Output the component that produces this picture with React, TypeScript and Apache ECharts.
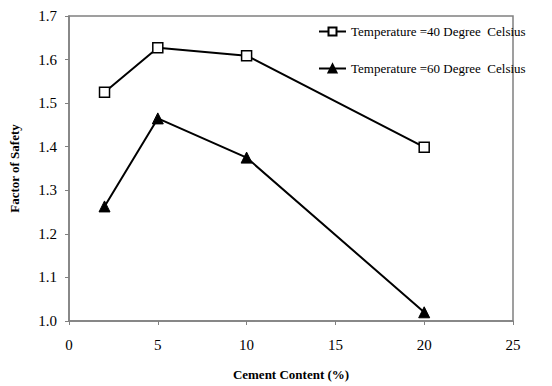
import React, { useEffect, useRef } from "react";
import * as echarts from "echarts";

const cement = [2, 5, 10, 20];
const fos40 = [1.525, 1.627, 1.609, 1.399];
const fos60 = [1.263, 1.465, 1.375, 1.02];
const seriesNames = ["Temperature =40 Degree  Celsius", "Temperature =60 Degree  Celsius"];
const xTitle = "Cement Content (%)";
const yTitle = "Factor of Safety";

export default function App() {
  const ref = useRef<HTMLDivElement>(null);
  useEffect(() => {
    const chart = echarts.init(ref.current!, null, { renderer: "svg" });
    const font = "serif";
    chart.setOption({
      animation: false,
      textStyle: { fontFamily: font },
      grid: { left: 68, right: 39, top: 16, bottom: 63, show: true, borderColor: "#808080", borderWidth: 1.5 },
      legend: {
        orient: "vertical",
        left: 313,
        top: 20,
        itemGap: 24,
        itemWidth: 27,
        itemHeight: 10,
        textStyle: { fontFamily: font, fontSize: 13, color: "#000" },
        data: seriesNames,
      },
      xAxis: {
        type: "value",
        min: 0,
        max: 25,
        interval: 5,
        name: xTitle,
        nameLocation: "middle",
        nameGap: 47,
        nameTextStyle: { fontFamily: font, fontWeight: "bold", fontSize: 13, color: "#000" },
        axisLine: { lineStyle: { color: "#808080", width: 1.5 } },
        axisTick: { show: true, length: 4, lineStyle: { color: "#808080" } },
        axisLabel: { fontFamily: font, fontSize: 15, color: "#000", margin: 16 },
        splitLine: { show: false },
      },
      yAxis: {
        type: "value",
        min: 1.0,
        max: 1.7,
        interval: 0.1,
        name: yTitle,
        nameLocation: "middle",
        nameGap: 48,
        nameRotate: 90,
        nameTextStyle: { fontFamily: font, fontWeight: "bold", fontSize: 13, color: "#000" },
        axisLine: { show: true, lineStyle: { color: "#808080", width: 1.5 } },
        axisTick: { show: true, length: 4, lineStyle: { color: "#808080" } },
        axisLabel: { fontFamily: font, fontSize: 15, color: "#000", margin: 12, formatter: (v: number) => v.toFixed(1) },
        splitLine: { show: false },
      },
      series: [
        {
          name: seriesNames[0],
          type: "line",
          data: cement.map((x, i) => [x, fos40[i]]),
          symbol: "rect",
          symbolSize: 10,
          lineStyle: { color: "#000", width: 2 },
          itemStyle: { color: "#fff", borderColor: "#000", borderWidth: 1.5 },
        },
        {
          name: seriesNames[1],
          type: "line",
          data: cement.map((x, i) => [x, fos60[i]]),
          symbol: "triangle",
          symbolSize: 11,
          lineStyle: { color: "#000", width: 2 },
          itemStyle: { color: "#000", borderColor: "#000", borderWidth: 1 },
        },
      ],
    });
    return () => chart.dispose();
  }, []);
  return (
    <div
      ref={ref}
      style={{ position: "absolute", left: 0, top: 0, width: 552, height: 386 }}
    />
  );
}
